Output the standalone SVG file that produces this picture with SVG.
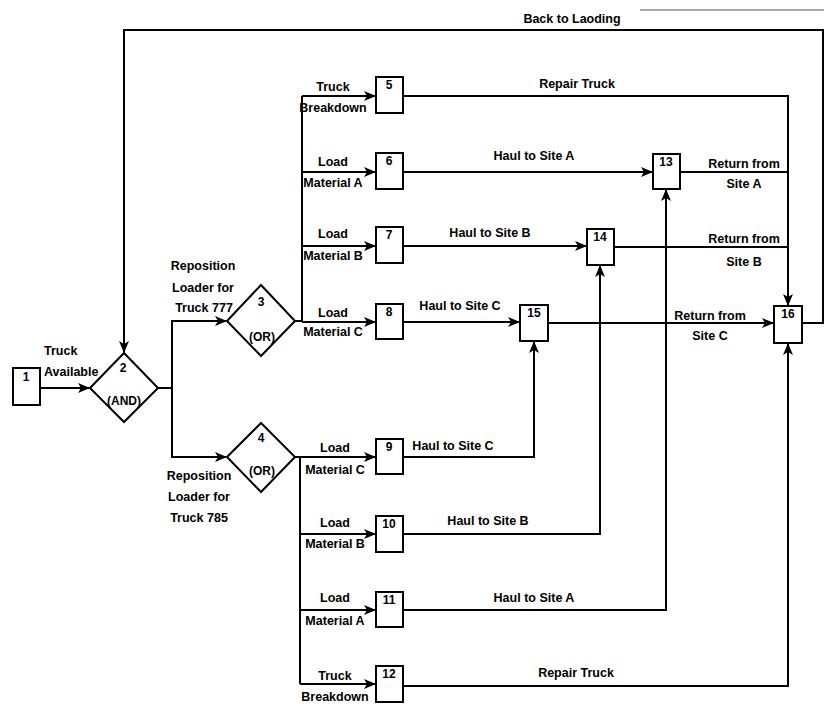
<svg xmlns="http://www.w3.org/2000/svg" width="824" height="704" viewBox="0 0 824 704">
<style>
.c{fill:none;stroke:#000;stroke-width:2}
.b{fill:#fff;stroke:#000;stroke-width:2}
text{font-family:"Liberation Sans Narrow","Liberation Sans",Arial,sans-serif;font-weight:bold;font-size:12.5px;text-anchor:middle;fill:#000}
.n{font-size:12px}
.s{text-anchor:start}
</style>
<defs>
<marker id="a" markerUnits="userSpaceOnUse" markerWidth="12" markerHeight="10" refX="11" refY="5" orient="auto">
<path d="M0,0 L12,5 L0,10 L3,5 z" fill="#000"/>
</marker>
</defs>
<g id="connectors">
<path class="c" d="M40,388 H89" marker-end="url(#a)"/>
<path class="c" d="M158,388 H172 V321 H226" marker-end="url(#a)"/>
<path class="c" d="M172,388 V457 H226" marker-end="url(#a)"/>
<path class="c" d="M295,321 H302 M302,96 V321"/>
<path class="c" d="M302,96 H375" marker-end="url(#a)"/>
<path class="c" d="M302,172 H375" marker-end="url(#a)"/>
<path class="c" d="M302,246 H375" marker-end="url(#a)"/>
<path class="c" d="M302,322 H375" marker-end="url(#a)"/>
<path class="c" d="M295,457 H300 V684"/>
<path class="c" d="M300,457 H375" marker-end="url(#a)"/>
<path class="c" d="M300,534 H375" marker-end="url(#a)"/>
<path class="c" d="M300,610 H375" marker-end="url(#a)"/>
<path class="c" d="M300,684 H375" marker-end="url(#a)"/>
<path class="c" d="M403,172 H652" marker-end="url(#a)"/>
<path class="c" d="M403,246 H586" marker-end="url(#a)"/>
<path class="c" d="M403,322 H519" marker-end="url(#a)"/>
<path class="c" d="M403,457 H534 V342" marker-end="url(#a)"/>
<path class="c" d="M403,534 H600 V266" marker-end="url(#a)"/>
<path class="c" d="M403,610 H666 V190" marker-end="url(#a)"/>
<path class="c" d="M403,686 H788 V344" marker-end="url(#a)"/>
<path class="c" d="M403,96 H788 V305" marker-end="url(#a)"/>
<path class="c" d="M680,172 H788"/>
<path class="c" d="M614,247 H788"/>
<path class="c" d="M548,323 H773" marker-end="url(#a)"/>
<path class="c" d="M802,323 H823 V30 H124 V352" marker-end="url(#a)"/>
<path d="M640,10 H824" fill="none" stroke="#555" stroke-width="1"/>
<text x="572" y="23">Back to Laoding</text>
<text x="44" y="355" class="s">Truck</text>
<text x="44" y="376" class="s">Available</text>
<text x="203" y="270">Reposition</text>
<text x="203" y="292">Loader for</text>
<text x="204" y="312">Truck 777</text>
<text x="199" y="480">Reposition</text>
<text x="199" y="501">Loader for</text>
<text x="199" y="522">Truck 785</text>
<text x="333" y="91">Truck</text>
<text x="333" y="112">Breakdown</text>
<text x="333" y="166">Load</text>
<text x="333" y="187">Material A</text>
<text x="333" y="238">Load</text>
<text x="333" y="260">Material B</text>
<text x="333" y="317">Load</text>
<text x="333" y="336">Material C</text>
<text x="335" y="452">Load</text>
<text x="335" y="474">Material C</text>
<text x="335" y="527">Load</text>
<text x="335" y="548">Material B</text>
<text x="335" y="602">Load</text>
<text x="335" y="625">Material A</text>
<text x="335" y="680">Truck</text>
<text x="335" y="701">Breakdown</text>
<text x="577" y="88">Repair Truck</text>
<text x="534" y="160">Haul to Site A</text>
<text x="490" y="237">Haul to Site B</text>
<text x="460" y="310">Haul to Site C</text>
<text x="744" y="168">Return from</text>
<text x="744" y="188">Site A</text>
<text x="744" y="243">Return from</text>
<text x="744" y="266">Site B</text>
<text x="710" y="320">Return from</text>
<text x="710" y="340">Site C</text>
<text x="453" y="450">Haul to Site C</text>
<text x="488" y="525">Haul to Site B</text>
<text x="534" y="602">Haul to Site A</text>
<text x="576" y="677">Repair Truck</text>
</g>
<g id="n1"><rect class="b" x="13" y="368" width="27" height="37"/><text class="n" x="26" y="381">1</text></g>
<g id="n2"><polygon class="b" points="90,388 124,353 158,388 124,422"/><text class="n" x="123" y="372">2</text><text class="n" x="124" y="405">(AND)</text></g>
<g id="n3"><polygon class="b" points="227,321 261,285 295,321 261,356"/><text class="n" x="261" y="306">3</text><text class="n" x="262" y="341">(OR)</text></g>
<g id="n4"><polygon class="b" points="227,457 261,423 295,457 261,492"/><text class="n" x="261" y="442">4</text><text class="n" x="262" y="475">(OR)</text></g>
<g id="n5"><rect class="b" x="376" y="77" width="27" height="36"/><text class="n" x="389" y="89">5</text></g>
<g id="n6"><rect class="b" x="376" y="153" width="27" height="36"/><text class="n" x="389" y="165">6</text></g>
<g id="n7"><rect class="b" x="376" y="227" width="27" height="36"/><text class="n" x="389" y="239">7</text></g>
<g id="n8"><rect class="b" x="376" y="304" width="27" height="35"/><text class="n" x="389" y="316">8</text></g>
<g id="n9"><rect class="b" x="376" y="439" width="27" height="35"/><text class="n" x="389" y="451">9</text></g>
<g id="n10"><rect class="b" x="376" y="516" width="27" height="36"/><text class="n" x="389" y="528">10</text></g>
<g id="n11"><rect class="b" x="376" y="592" width="27" height="35"/><text class="n" x="389" y="604">11</text></g>
<g id="n12"><rect class="b" x="376" y="666" width="27" height="36"/><text class="n" x="389" y="678">12</text></g>
<g id="n13"><rect class="b" x="653" y="154" width="27" height="35"/><text class="n" x="666" y="166">13</text></g>
<g id="n14"><rect class="b" x="587" y="229" width="27" height="36"/><text class="n" x="600" y="241">14</text></g>
<g id="n15"><rect class="b" x="520" y="305" width="28" height="36"/><text class="n" x="534" y="317">15</text></g>
<g id="n16"><rect class="b" x="774" y="306" width="28" height="37"/><text class="n" x="788" y="318">16</text></g>
</svg>
